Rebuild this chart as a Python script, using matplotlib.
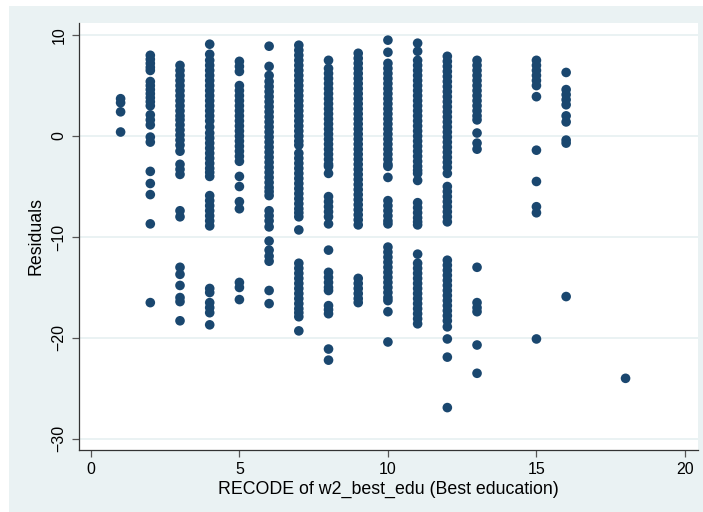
import numpy as np
import matplotlib.pyplot as plt
from matplotlib.patches import Rectangle

# ----------------------------------------------------------------------
# Residuals per education level
# ----------------------------------------------------------------------

edu_1 = [3.7, 3.3, 2.4, 0.4]
edu_2 = [8.0, 7.6, 7.2, 6.8, 6.5, 5.4, 5.0, 4.6, 4.2, 3.8, 3.4, 3.0, 2.1, 1.6, 1.1,
         -0.1, -0.6, -3.5, -4.7, -5.8, -8.7, -16.5]
edu_3 = [7.0, 6.5, 6.0, 5.5, 5.0, 4.5, 4.0, 3.5, 3.0, 2.5, 2.0, 1.6, 1.1, 0.6, 0.1,
         -0.4, -0.9, -1.5, -2.8, -3.3, -3.8, -7.4, -8.0, -13.0, -13.7, -14.8, -16.0,
         -16.4, -18.3]
edu_4 = [9.1, 8.1, 7.5, 7.0, 6.5, 6.0, 5.5, 5.0, 4.5, 4.0, 3.5, 3.0, 2.5, 2.0, 1.5, 0.9,
         0.3, -0.2, -0.7, -1.2, -1.7, -2.2, -2.7, -3.2, -3.6, -4.0, -5.9, -6.4, -6.9,
         -7.4, -7.9, -8.4, -8.9, -15.1, -15.5, -16.5, -17.0, -17.5, -18.7]
edu_5 = [7.4, 6.9, 6.4, 5.0, 4.5, 4.0, 3.5, 3.0, 2.5, 2.0, 1.5, 1.0, 0.5, 0.0, -0.5,
         -1.0, -1.5, -2.0, -2.5, -4.0, -5.0, -6.5, -7.2, -14.5, -15.0, -16.2]
edu_6 = [8.9, 6.9, 6.0, 5.4, 4.9, 4.4, 3.9, 3.4, 2.9, 2.4, 1.9, 1.4, 0.9, 0.4, -0.1,
         -0.6, -1.1, -1.6, -2.1, -2.6, -3.1, -3.6, -4.1, -4.6, -5.1, -5.5, -5.9, -7.4,
         -7.9, -8.4, -9.0, -10.4, -11.3, -11.9, -12.4, -15.3, -16.6]
edu_7 = [9.0, 8.5, 8.0, 7.5, 7.0, 6.5, 6.0, 5.5, 5.0, 4.5, 4.0, 3.5, 3.0, 2.5, 2.0,
         1.5, 1.0, 0.5, 0.0, -0.5, -0.9, -1.7, -2.2, -2.7, -3.2, -3.7, -4.2, -4.7,
         -5.2, -5.7, -6.2, -6.7, -7.2, -7.6, -8.0, -9.3, -12.6, -13.1, -13.6, -14.1,
         -14.6, -15.1, -15.6, -16.1, -16.6, -17.1, -17.5, -17.9, -19.3]
edu_8 = [7.5, 6.7, 6.2, 5.7, 5.2, 4.7, 4.2, 3.7, 3.2, 2.7, 2.2, 1.7, 1.2, 0.7, 0.2,
         -0.3, -0.8, -1.3, -1.8, -2.3, -2.8, -3.0, -3.7, -6.0, -6.5, -7.0, -7.5, -8.0,
         -8.7, -11.3, -13.5, -14.0, -14.5, -15.0, -15.3, -16.8, -17.2, -17.6, -21.1,
         -22.2]
edu_9 = [8.2, 7.7, 7.2, 6.7, 6.2, 5.7, 5.2, 4.7, 4.2, 3.7, 3.2, 2.7, 2.2, 1.7, 1.2,
         0.7, 0.2, -0.3, -0.8, -1.3, -1.8, -2.3, -2.8, -3.3, -3.8, -4.3, -4.8, -5.3,
         -5.8, -6.3, -6.8, -7.3, -7.8, -8.3, -8.8, -14.1, -14.6, -15.1, -15.6, -16.1,
         -16.5]
edu_10 = [9.5, 8.3, 7.2, 6.7, 6.2, 5.7, 5.2, 4.7, 4.2, 3.7, 3.2, 2.7, 2.2, 1.7, 1.2,
          0.7, 0.2, -0.3, -0.8, -1.3, -1.8, -2.3, -2.8, -3.0, -4.1, -6.4, -6.9, -7.4,
          -7.9, -8.4, -8.7, -11.0, -11.5, -12.0, -12.5, -13.0, -13.5, -14.0, -14.5,
          -15.0, -15.5, -16.0, -16.3, -17.4, -20.4]
edu_11 = [9.2, 8.4, 7.5, 7.0, 6.5, 6.0, 5.5, 5.0, 4.5, 4.0, 3.5, 3.0, 2.5, 2.0, 1.5,
          1.0, 0.5, 0.0, -0.5, -1.0, -1.5, -2.0, -2.5, -3.0, -3.4, -3.7, -4.4, -6.6,
          -7.1, -7.6, -8.1, -8.5, -8.8, -11.7, -12.6, -13.1, -13.6, -14.1, -14.6,
          -15.1, -15.6, -16.1, -16.6, -17.1, -17.6, -18.1, -18.6]
edu_12 = [7.9, 7.4, 6.9, 6.4, 5.9, 5.4, 4.9, 4.4, 3.9, 3.4, 2.9, 2.4, 1.9, 1.4, 0.9,
          0.4, -0.1, -0.6, -1.1, -1.6, -2.1, -2.6, -3.1, -3.7, -5.0, -5.5, -6.0, -6.5,
          -7.0, -7.5, -8.0, -8.5, -12.3, -12.8, -13.3, -13.8, -14.3, -14.8, -15.3,
          -15.8, -16.3, -16.8, -17.3, -17.8, -18.3, -18.9, -20.1, -21.9, -26.9]
edu_13 = [7.5, 7.0, 6.5, 6.0, 5.5, 5.0, 4.5, 4.0, 3.5, 3.0, 2.5, 2.0, 1.6, 0.3, -0.7,
          -1.3, -13.0, -16.5, -17.0, -17.4, -20.7, -23.5]
edu_15 = [7.5, 7.0, 6.5, 6.0, 5.5, 5.0, 3.9, -1.4, -4.5, -7.0, -7.6, -20.1]
edu_16 = [6.3, 4.6, 4.1, 3.6, 3.1, 2.0, 1.4, -0.4, -0.7, -15.9]
edu_18 = [-24.0]

levels = [1, 2, 3, 4, 5, 6, 7, 8, 9, 10, 11, 12, 13, 15, 16, 18]
residuals = [edu_1, edu_2, edu_3, edu_4, edu_5, edu_6, edu_7, edu_8, edu_9,
             edu_10, edu_11, edu_12, edu_13, edu_15, edu_16, edu_18]

x_ticks = [0, 5, 10, 15, 20]
y_ticks = [-30, -20, -10, 0, 10]

# ----------------------------------------------------------------------
# Figure (Stata s2color look)
# ----------------------------------------------------------------------

plt.rcParams['font.family'] = ['Liberation Sans', 'DejaVu Sans']

navy = '#1A476F'
bg = '#EAF2F3'

fig = plt.figure(figsize=(7.03, 5.12), dpi=100, facecolor='white')
fig.patches.append(Rectangle((9 / 703, 0), 1 - 9 / 703, 1 - 6 / 512,
                             transform=fig.transFigure, facecolor=bg,
                             edgecolor='none', zorder=-10))

ax = fig.add_axes([0.1124, 0.1211, 0.8801, 0.834])
ax.set_zorder(5)
ax.set_facecolor('white')

xs = np.concatenate([[lv] * len(r) for lv, r in zip(levels, residuals)])
ys = np.concatenate(residuals)
ax.scatter(xs, ys, s=48, color=navy, edgecolors='none', zorder=3)

ax.set_xlim(-0.4, 20.43)
ax.set_ylim(-31.1, 11.2)
ax.set_xticks(x_ticks)
ax.set_yticks(y_ticks)
ax.grid(axis='y', color=bg, linewidth=1.4, zorder=1)
ax.set_axisbelow(True)

for side in ['top', 'right']:
    ax.spines[side].set_visible(False)
for side in ['left', 'bottom']:
    ax.spines[side].set_color('#333333')
    ax.spines[side].set_linewidth(0.9)

ax.tick_params(axis='both', length=5, width=0.9, color='#555555',
               labelsize=11.5, pad=4)
ax.tick_params(axis='y', labelrotation=90)
for lab in ax.get_yticklabels():
    lab.set_va('center')

ax.set_xlabel('RECODE of w2_best_edu (Best education)', fontsize=12.8)
ax.set_ylabel('Residuals', fontsize=12.8)
ax.xaxis.set_label_coords(0.5, -0.073)
ax.yaxis.set_label_coords(-0.055, 0.5)

fig.savefig('out.png', dpi=100, facecolor=fig.get_facecolor())
